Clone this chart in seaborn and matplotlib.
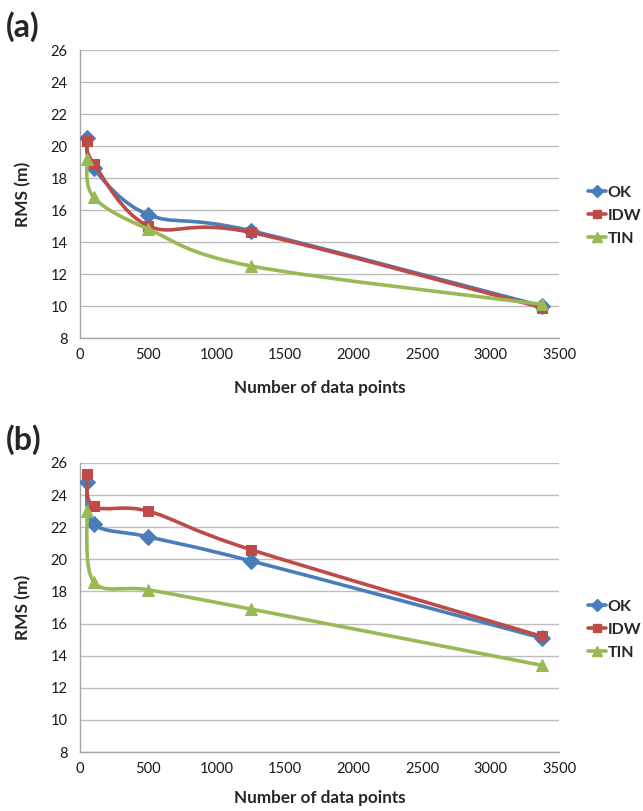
import numpy as np
import pandas as pd
import seaborn as sns
import matplotlib
matplotlib.use("Agg")
import matplotlib.pyplot as plt
from matplotlib.path import Path
from matplotlib.patches import PathPatch
from matplotlib.lines import Line2D

# ---------------- data ----------------
n_points = [50, 100, 500, 1250, 3375]
methods = ["OK", "IDW", "TIN"]

a_ok = [20.5, 18.6, 15.7, 14.7, 10.0]
a_idw = [20.3, 18.9, 15.0, 14.6, 9.9]
a_tin = [19.2, 16.8, 14.8, 12.5, 10.1]

b_ok = [24.8, 22.2, 21.4, 19.9, 15.1]
b_idw = [25.3, 23.3, 23.0, 20.6, 15.2]
b_tin = [23.0, 18.6, 18.1, 16.9, 13.4]

panel_labels = ["(a)", "(b)"]
x_label = "Number of data points"
y_label = "RMS (m)"
x_ticks = [0, 500, 1000, 1500, 2000, 2500, 3000, 3500]
y_ticks = [8, 10, 12, 14, 16, 18, 20, 22, 24, 26]

colors = {"OK": "#4A7EBB", "IDW": "#BE4B48", "TIN": "#98B954"}
markers = {"OK": "D", "IDW": "s", "TIN": "^"}
msizes = {"OK": 8, "IDW": 7.5, "TIN": 9}

sns.set_style("white")
plt.rcParams["font.family"] = ["Lato", "DejaVu Sans"]

W, H = 643, 811
fig = plt.figure(figsize=(W / 100, H / 100), dpi=100)


def smooth_path(xs, ys):
    """Excel-like smoothed line: cubic Bezier through the points (Catmull-Rom)."""
    p = np.column_stack([xs, ys]).astype(float)
    n = len(p)
    verts = [p[0]]
    codes = [Path.MOVETO]
    for i in range(n - 1):
        p0 = p[i - 1] if i > 0 else p[i]
        p1 = p[i]
        p2 = p[i + 1]
        p3 = p[i + 2] if i + 2 < n else p[i + 1]
        c1 = p1 + (p2 - p0) / 6.0
        c2 = p2 - (p3 - p1) / 6.0
        verts += [c1, c2, p2]
        codes += [Path.CURVE4] * 3
    return Path(verts, codes)


def make_panel(top_px, bottom_px, series, label, xlabel_top_px):
    left_px, right_px = 80, 559
    h = bottom_px - top_px
    ax = fig.add_axes([left_px / W, 1 - bottom_px / H,
                       (right_px - left_px) / W, h / H])
    df = pd.DataFrame({"x": np.tile(n_points, 3),
                       "y": np.concatenate([series[m] for m in methods]),
                       "method": np.repeat(methods, len(n_points))})
    for k, m in enumerate(methods):
        sub = df[df["method"] == m]
        patch = PathPatch(smooth_path(sub["x"].values, sub["y"].values),
                          facecolor="none", edgecolor=colors[m], lw=2.6,
                          capstyle="round", joinstyle="round", zorder=3 + 2 * k)
        ax.add_patch(patch)
        sns.lineplot(data=sub, x="x", y="y", ax=ax, linestyle="", marker=markers[m],
                     markersize=msizes[m], color=colors[m], markeredgecolor=colors[m],
                     zorder=4 + 2 * k, legend=False, errorbar=None)
    ax.set_xlim(0, 3500)
    ax.set_ylim(8, 26)
    ax.set_xticks(x_ticks)
    ax.set_yticks(y_ticks)
    ax.set_xticklabels([str(t) for t in x_ticks], fontsize=10.5, color="#1a1a1a")
    ax.set_yticklabels([str(t) for t in y_ticks], fontsize=10.5, color="#1a1a1a")
    ax.grid(axis="y", color="#BEBEBE", lw=1.0, zorder=0)
    ax.grid(axis="x", visible=False)
    for s in ["top", "right"]:
        ax.spines[s].set_visible(False)
    for s in ["left", "bottom"]:
        ax.spines[s].set_color("#A6A6A6")
        ax.spines[s].set_linewidth(1.0)
    ax.tick_params(axis="x", direction="inout", length=7, width=1.0, color="#A6A6A6", pad=4)
    ax.tick_params(axis="y", length=0, pad=9)
    ax.set_xlabel(x_label, fontsize=12.3, fontweight="bold")
    ax.set_ylabel(y_label, fontsize=12.5, fontweight="bold")
    ax.xaxis.set_label_coords(0.5, -(xlabel_top_px - bottom_px) / h)
    ax.yaxis.set_label_coords(-0.102, 0.5)
    handles = [Line2D([], [], color=colors[m], lw=2.6, marker=markers[m],
                      markersize=msizes[m] * 0.8) for m in methods]
    ax.legend(handles, methods, loc="center left", bbox_to_anchor=(1.03, 0.424),
              frameon=False, handlelength=1.15, handletextpad=0.1,
              labelspacing=0.55, prop={"size": 11.5, "weight": "bold"})
    fig.text(6 / W, 1 - (top_px - 23) / H, label, fontsize=23, fontweight="bold",
             ha="left", va="center")
    return ax


make_panel(50, 338, {"OK": a_ok, "IDW": a_idw, "TIN": a_tin}, panel_labels[0], 380)
make_panel(463, 752, {"OK": b_ok, "IDW": b_idw, "TIN": b_tin}, panel_labels[1], 790)

fig.savefig("out.png", dpi=100)
